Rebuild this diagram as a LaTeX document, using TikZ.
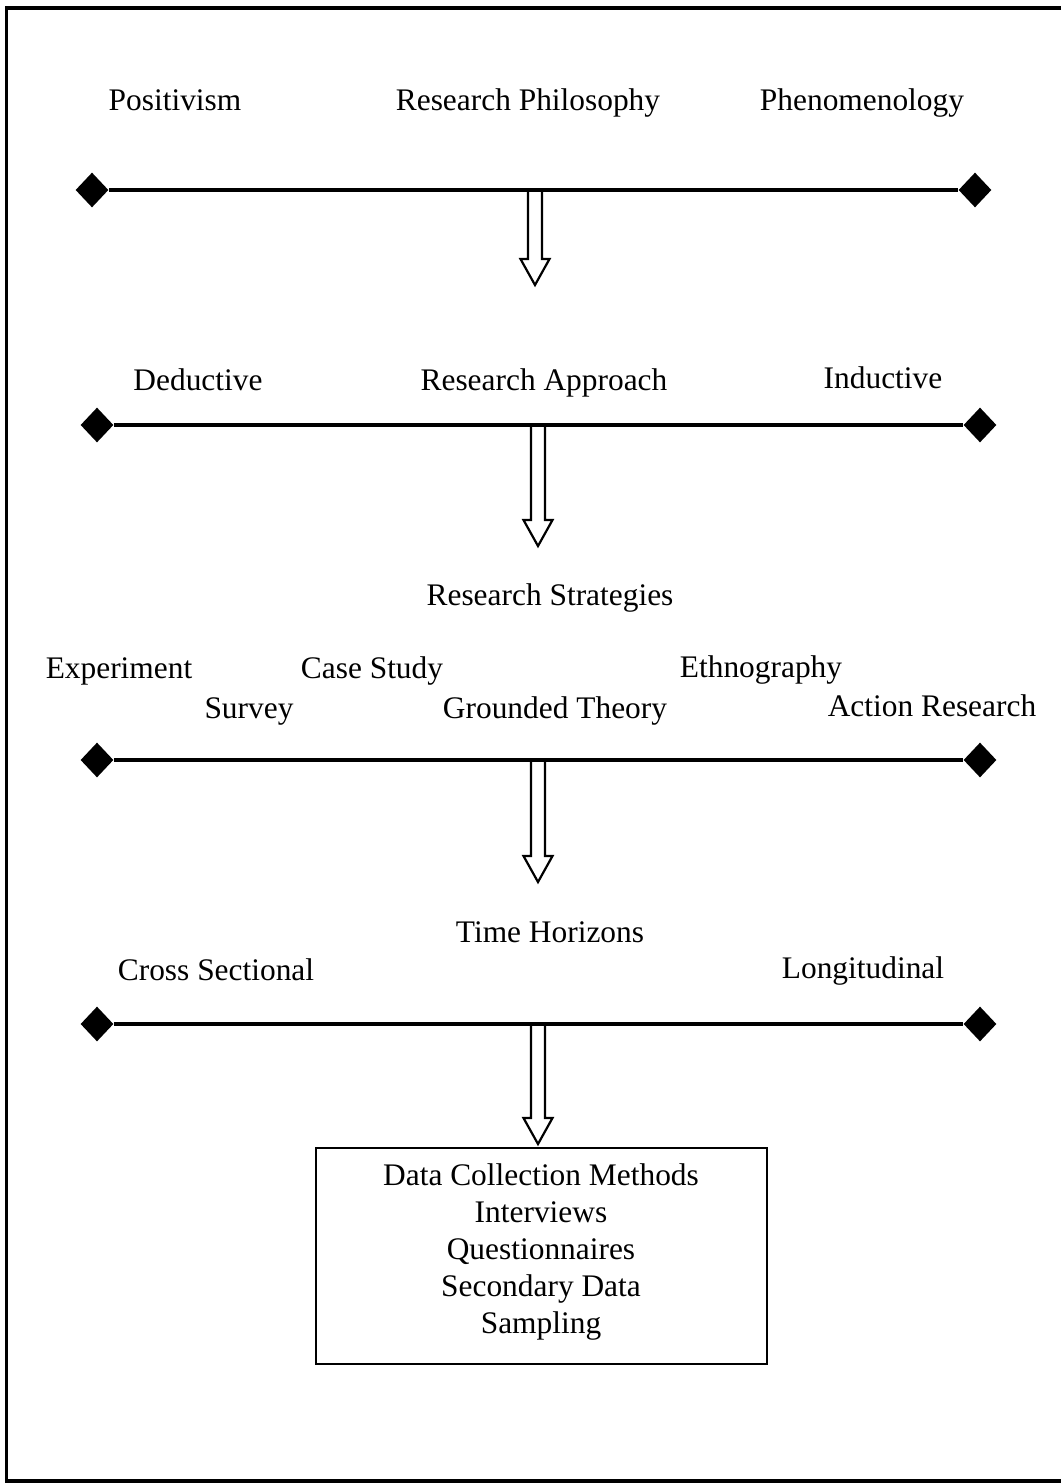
\documentclass[tikz,border=0pt]{standalone}
\usepackage{fontspec}
\setmainfont{Liberation Serif}
\usetikzlibrary{shapes.geometric}
\begin{document}
\begin{tikzpicture}[x=0.5pt,y=-0.5pt,
  lbl/.style={anchor=base, inner sep=0pt, font=\fontsize{15.7}{18}\selectfont},
  rule/.style={line width=1.6pt},
  endmark/.style={diamond, fill=black, draw=none, inner sep=0pt, minimum width=16.5pt, minimum height=17.5pt},
  frame/.style={line width=1.8pt},
  arrowline/.style={line width=1.1pt, line join=miter},
  methodbox/.style={draw, line width=1.2pt, minimum width=225.5pt, minimum height=108pt, inner sep=0pt},
  pics/blockarrow/.style={code={
    \draw[arrowline] (-7,0) -- (-7,{#1-26}) -- (-14.5,{#1-26}) -- (0,#1)
      -- (14.5,{#1-26}) -- (7,{#1-26}) -- (7,0);}}
]
\useasboundingbox (0,0) rectangle (1061,1483);

% outer frame (open on the right)
\draw[frame] (1061,8) -- (6.5,8) -- (6.5,1481) -- (1061,1481);

% ---- research philosophy ----
\node[lbl] (pos) at (175,110) {Positivism};
\node[lbl] (phil) at (528,110) {Research Philosophy};
\node[lbl] (phen) at (862,110) {Phenomenology};
\node[endmark] (l1a) at (92,190) {};
\node[endmark] (l1b) at (975,190) {};
\coordinate (a1) at (535,190);
\pic at (a1) {blockarrow=95};
\draw[rule] (l1a) -- (l1b);

% ---- research approach ----
\node[lbl] (ded) at (198,390) {Deductive};
\node[lbl] (appr) at (544,390) {Research Approach};
\node[lbl] (ind) at (883,388) {Inductive};
\node[endmark] (l2a) at (97,425) {};
\node[endmark] (l2b) at (980,425) {};
\coordinate (a2) at (538,425);
\pic at (a2) {blockarrow=121};
\draw[rule] (l2a) -- (l2b);

% ---- research strategies ----
\node[lbl] (strat) at (550,605) {Research Strategies};
\node[lbl] (exp) at (119,678) {Experiment};
\node[lbl] (case) at (372,678) {Case Study};
\node[lbl] (eth) at (761,677) {Ethnography};
\node[lbl] (surv) at (249,718) {Survey};
\node[lbl] (grt) at (555,718) {Grounded Theory};
\node[lbl] (act) at (932,716) {Action Research};
\node[endmark] (l3a) at (97,760) {};
\node[endmark] (l3b) at (980,760) {};
\coordinate (a3) at (538,760);
\pic at (a3) {blockarrow=122};
\draw[rule] (l3a) -- (l3b);

% ---- time horizons ----
\node[lbl] (time) at (550,942) {Time Horizons};
\node[lbl] (cross) at (216,980) {Cross Sectional};
\node[lbl] (longi) at (863,978) {Longitudinal};
\node[endmark] (l4a) at (97,1024) {};
\node[endmark] (l4b) at (980,1024) {};
\coordinate (a4) at (538,1024);
\pic at (a4) {blockarrow=120};
\draw[rule] (l4a) -- (l4b);

% ---- data collection ----
\node[methodbox] (dcm) at (541.5,1256) {};
\node[lbl, anchor=center, align=center, font=\fontsize{15.7}{18.5}\selectfont] (dcmtext) at (541,1252)
  {Data Collection Methods\\Interviews\\Questionnaires\\Secondary Data\\Sampling};
\end{tikzpicture}
\end{document}
